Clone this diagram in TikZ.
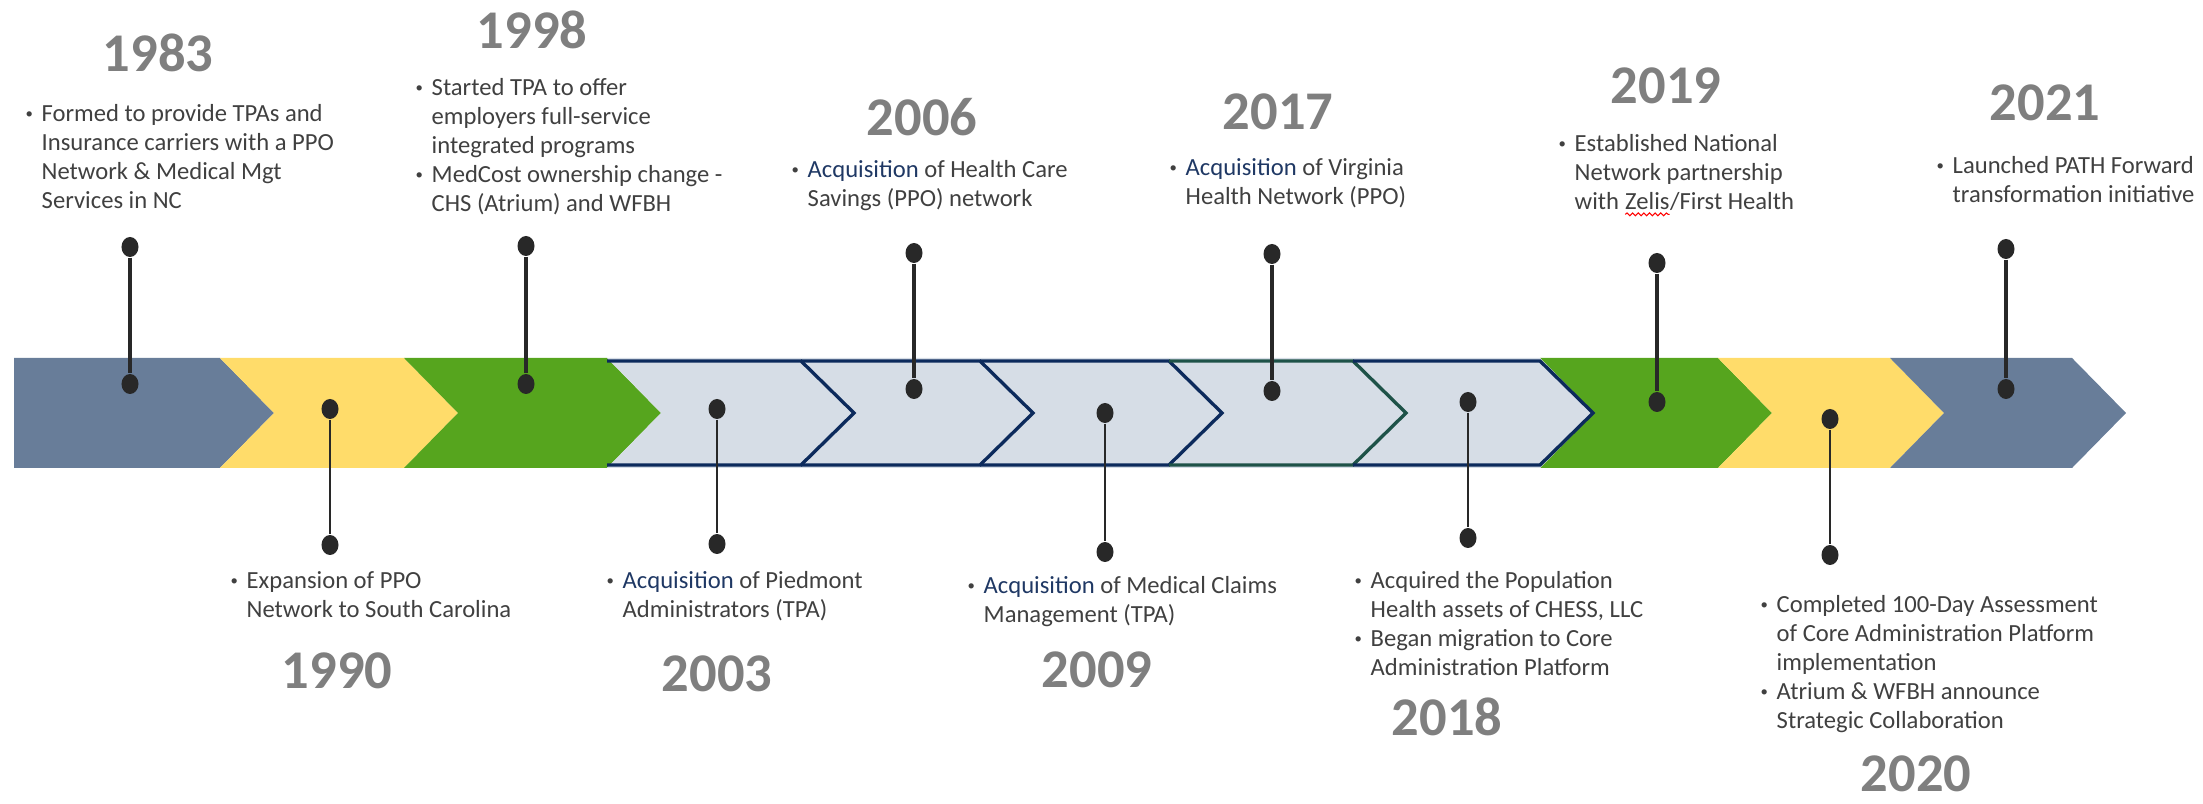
\documentclass[tikz,border=0pt]{standalone}
\usepackage{fontspec}
\setmainfont{Carlito}
\usetikzlibrary{shapes.geometric,decorations.pathmorphing}
\definecolor{slate}{RGB}{104,125,153}
\definecolor{sun}{RGB}{255,220,106}
\definecolor{leaf}{RGB}{86,165,30}
\definecolor{mist}{RGB}{214,221,230}
\definecolor{navy}{RGB}{12,42,92}
\definecolor{tealline}{RGB}{30,82,72}
\definecolor{pin}{RGB}{40,40,40}
\definecolor{yeargrey}{RGB}{127,127,127}
\definecolor{bodygrey}{RGB}{64,64,64}
\definecolor{acqblue}{RGB}{31,56,100}
% chevron pieces of the band: left x, right x, colour
\newcommand{\chevfill}[3]{\fill[#3] (#1,358)--(#2,358)--(#2+54,413)--(#2,468)--(#1,468)--(#1+54,413)--cycle;}
\newcommand{\chevline}[3]{\draw[#3,line width=0.95pt] (#1,361)--(#2,361)--(#2+53,413)--(#2,465)--(#1,465);}
\newcommand{\bul}{\makebox[0pt][r]{\raisebox{0.12em}{\scalebox{0.6}{\textbullet}}\hspace{2.5pt}}}
\newcommand{\acq}{\textcolor{acqblue}{Acquisition}}
\newcommand{\squig}[1]{\tikz[baseline=(s.base)]{\node[anchor=base,inner sep=0pt,outer sep=0pt] (s) {#1};
	\draw[red,line width=0.3pt,decorate,decoration={snake,amplitude=0.4pt,segment length=1.6pt}] ([yshift=-1.3pt]s.base west)--([yshift=-1.3pt]s.base east);}}
\begin{document}
\begin{tikzpicture}[x=0.01cm,y=-0.01cm,
	dot/.style={ellipse,fill=pin,inner sep=0pt,minimum width=0.17cm,minimum height=0.2cm},
	stem/.style={draw=pin,line width=1.1pt},
	stemlow/.style={draw=pin,line width=0.8pt},
	yr/.style={inner sep=0pt,font=\fontsize{15.5}{18}\selectfont\bfseries,text=yeargrey},
	txt/.style={anchor=north west,inner sep=0pt,align=left,font=\fontsize{7}{8.25}\selectfont,text=bodygrey}]
	\useasboundingbox (0,0) rectangle (2203,804);
	% band
	\fill[slate] (14,358)--(220,358)--(274,413)--(220,468)--(14,468)--cycle;
	\chevfill{220}{404}{sun}
	\chevfill{404}{607}{leaf}
	\chevfill{1540}{1718}{leaf}
	\chevfill{1718}{1890}{sun}
	\chevfill{1890}{2072}{slate}
	\chevfill{607}{801}{mist}
	\chevfill{801}{980}{mist}
	\chevfill{980}{1169}{mist}
	\chevfill{1169}{1353}{mist}
	\chevfill{1353}{1540}{mist}
	\chevline{607}{801}{navy}
	\chevline{801}{980}{navy}
	\chevline{980}{1169}{navy}
	\chevline{1169}{1353}{tealline}
	\chevline{1353}{1540}{navy}
	% pins
	\node[dot] (d83t) at (130,247) {};
	\node[dot] (d83b) at (130,384) {};
	\node[dot] (d90t) at (330,409) {};
	\node[dot] (d90b) at (330,545) {};
	\node[dot] (d98t) at (526,246) {};
	\node[dot] (d98b) at (526,384) {};
	\node[dot] (d03t) at (717,409) {};
	\node[dot] (d03b) at (717,544) {};
	\node[dot] (d06t) at (914,253) {};
	\node[dot] (d06b) at (914,389) {};
	\node[dot] (d09t) at (1105,413) {};
	\node[dot] (d09b) at (1105,552) {};
	\node[dot] (d17t) at (1272,254) {};
	\node[dot] (d17b) at (1272,391) {};
	\node[dot] (d18t) at (1468,402) {};
	\node[dot] (d18b) at (1468,538) {};
	\node[dot] (d19t) at (1657,263) {};
	\node[dot] (d19b) at (1657,402) {};
	\node[dot] (d20t) at (1830,419) {};
	\node[dot] (d20b) at (1830,555) {};
	\node[dot] (d21t) at (2006,249) {};
	\node[dot] (d21b) at (2006,389) {};
	\draw[stem] (d83t) -- (d83b);
	\draw[stem] (d98t) -- (d98b);
	\draw[stem] (d06t) -- (d06b);
	\draw[stem] (d17t) -- (d17b);
	\draw[stem] (d19t) -- (d19b);
	\draw[stem] (d21t) -- (d21b);
	\draw[stemlow] (d90t) -- (d90b);
	\draw[stemlow] (d03t) -- (d03b);
	\draw[stemlow] (d09t) -- (d09b);
	\draw[stemlow] (d18t) -- (d18b);
	\draw[stemlow] (d20t) -- (d20b);
	% years
	\node[yr] (y83) at (158,53) {1983};
	\node[yr] (y90) at (337,671) {1990};
	\node[yr] (y98) at (532,30) {1998};
	\node[yr] (y03) at (717,674) {2003};
	\node[yr] (y06) at (922,117) {2006};
	\node[yr] (y09) at (1097,670) {2009};
	\node[yr] (y17) at (1278,112) {2017};
	\node[yr] (y18) at (1447,717) {2018};
	\node[yr] (y19) at (1666,86) {2019};
	\node[yr] (y20) at (1916,774) {2020};
	\node[yr] (y21) at (2045,103) {2021};
	% notes
	\node[txt] (t83) at (41,104) {\bul Formed to provide TPAs and\\Insurance carriers with a PPO\\Network \& Medical Mgt\\Services in NC};
	\node[txt] (t98) at (431,78) {\bul Started TPA to offer\\employers full-service\\integrated programs\\\bul MedCost ownership change -\\CHS (Atrium) and WFBH};
	\node[txt] (t06) at (807,160) {\bul \acq{} of Health Care\\Savings (PPO) network};
	\node[txt] (t17) at (1185,158) {\bul \acq{} of Virginia\\Health Network (PPO)};
	\node[txt] (t19) at (1574,134) {\bul Established National\\Network partnership\\with \squig{Zelis}/First Health};
	\node[txt] (t21) at (1952,156) {\bul Launched PATH Forward\\transformation initiative};
	\node[txt] (t90) at (246,571) {\bul Expansion of PPO\\Network to South Carolina};
	\node[txt] (t03) at (622,571) {\bul \acq{} of Piedmont\\Administrators (TPA)};
	\node[txt] (t09) at (983,576) {\bul \acq{} of Medical Claims\\Management (TPA)};
	\node[txt] (t18) at (1370,571) {\bul Acquired the Population\\Health assets of CHESS, LLC\\\bul Began migration to Core\\Administration Platform};
	\node[txt] (t20) at (1776,595) {\bul Completed 100-Day Assessment\\of Core Administration Platform\\implementation\\\bul Atrium \& WFBH announce\\Strategic Collaboration};
\end{tikzpicture}
\end{document}
